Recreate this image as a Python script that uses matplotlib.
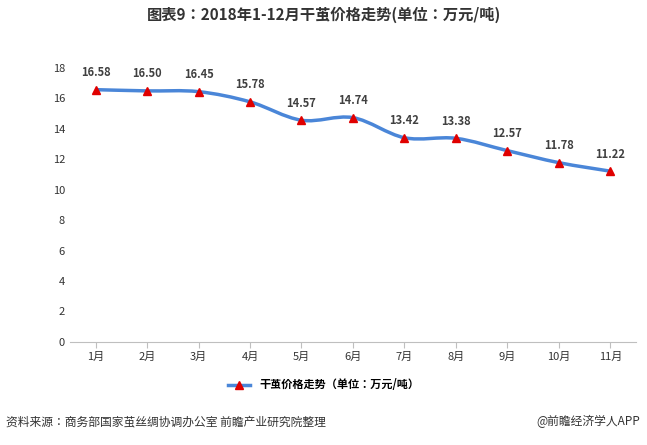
import matplotlib
matplotlib.use("Agg")
import matplotlib.pyplot as plt
from matplotlib import font_manager
from matplotlib.path import Path
from matplotlib.patches import PathPatch
import numpy as np

names = sorted({f.name for f in font_manager.fontManager.ttflist})
cjk = [n for n in names if "Sans CJK" in n and "SC" in n] or [n for n in names if "Sans CJK" in n] \
    or [n for n in names if "CJK" in n]
plt.rcParams["font.family"] = ["DejaVu Sans"] if not cjk else [cjk[0], "DejaVu Sans"]

months = ["1月", "2月", "3月", "4月", "5月", "6月", "7月", "8月", "9月", "10月", "11月"]
prices = [16.58, 16.50, 16.45, 15.78, 14.57, 14.74, 13.42, 13.38, 12.57, 11.78, 11.22]

fig = plt.figure(figsize=(6.47, 4.45), dpi=100)
ax = fig.add_axes([0.108, 0.232, 0.875, 0.615])

x = np.arange(len(months))
y = np.array(prices)

# smooth curve: Catmull-Rom as cubic bezier segments
verts = [(x[0], y[0])]
codes = [Path.MOVETO]
for i in range(len(x) - 1):
    p0 = (x[i - 1], y[i - 1]) if i > 0 else (x[i], y[i])
    p3 = (x[i + 2], y[i + 2]) if i + 2 < len(x) else (x[i + 1], y[i + 1])
    c1 = (x[i] + (x[i + 1] - p0[0]) / 6, y[i] + (y[i + 1] - p0[1]) / 6)
    c2 = (x[i + 1] - (p3[0] - x[i]) / 6, y[i + 1] - (p3[1] - y[i]) / 6)
    verts += [c1, c2, (x[i + 1], y[i + 1])]
    codes += [Path.CURVE4] * 3
ax.add_patch(PathPatch(Path(verts, codes), fill=False, edgecolor="#4a86d8", lw=2.5, zorder=2))
ax.plot(x, y, ls="none", marker="^", color="#e00000", ms=6, zorder=3)
ax.plot([], [], color="#4a86d8", lw=2.5, marker="^", mfc="#e00000", mec="#e00000",
        label="干茧价格走势（单位：万元/吨）")

for xi, yi in zip(x, y):
    ax.text(xi, yi + 0.7, f"{yi:.2f}", ha="center", va="bottom", fontsize=8,
            fontweight="bold", color="#404040")

ax.set_xlim(-0.5, len(months) - 0.5)
ax.set_ylim(0, 18)
ax.set_yticks(range(0, 19, 2))
ax.set_xticks(x)
ax.set_xticklabels(months)
ax.tick_params(labelsize=8, colors="#333333", length=0)
ax.tick_params(axis="x", length=4, color="#bfbfbf")
for s in ["top", "right", "left"]:
    ax.spines[s].set_visible(False)
ax.spines["bottom"].set_color("#bfbfbf")

fig.text(0.5, 0.955, "图表9：2018年1-12月干茧价格走势(单位：万元/吨)", ha="center",
         fontsize=11, fontweight="bold", color="#333333")
fig.legend(loc="center", bbox_to_anchor=(0.5, 0.135), frameon=False, prop={"size": 8, "weight": "bold"})
fig.text(0.01, 0.045, "资料来源：商务部国家茧丝绸协调办公室 前瞻产业研究院整理", fontsize=8.5, color="#333333")
fig.text(0.99, 0.045, "@前瞻经济学人APP", ha="right", fontsize=8.5, color="#333333")

fig.savefig("out.png", dpi=100)
